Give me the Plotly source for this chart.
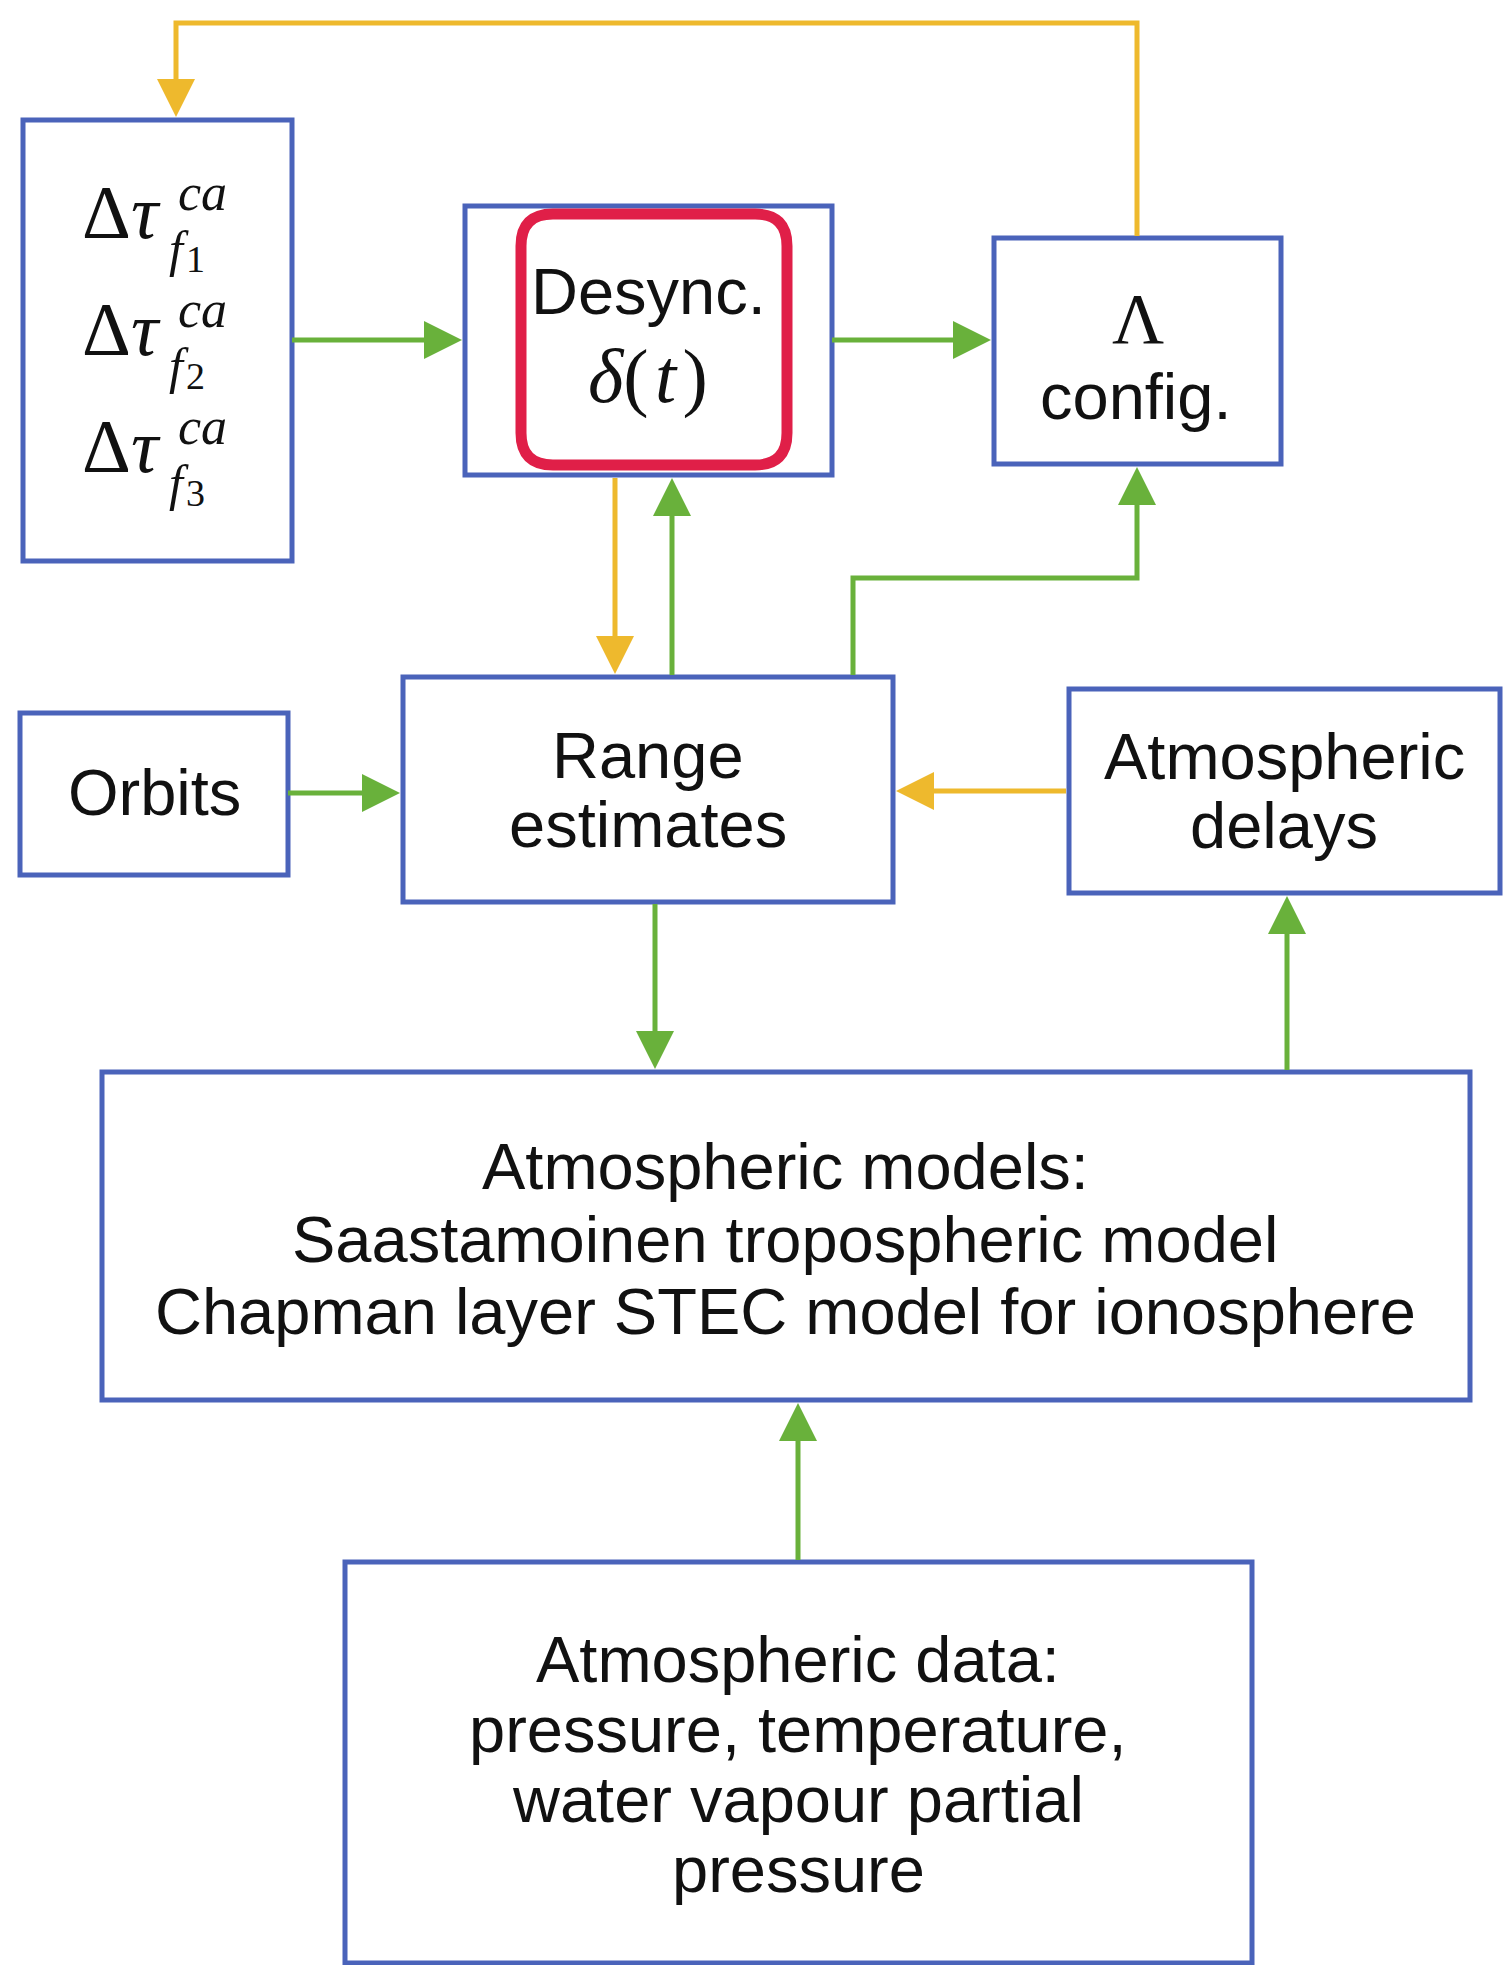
import plotly.graph_objects as go

# ---------------- data (labels) ----------------
tau_indices = ["1", "2", "3"]
tau_symbol = "Δ<i>τ</i>"
tau_super = "<i>ca</i>"
tau_sub = "<i>f</i>"
desync_lines = ["Desync.", "<i>δ</i>(\u200a<i>t</i>\u200a)"]
config_lines = ["Λ", "config."]
orbits_lines = ["Orbits"]
range_lines = ["Range", "estimates"]
delays_lines = ["Atmospheric", "delays"]
models_lines = ["Atmospheric models:", "Saastamoinen tropospheric model",
                "Chapman layer STEC model for ionosphere"]
data_lines = ["Atmospheric data:", "pressure, temperature,",
              "water vapour partial", "pressure"]

# ---------------- layout geometry (page pixels) ----------------
BLUE = "#4a63ba"
GREEN = "#69b13b"
YELLOW = "#eeb92d"
RED = "#e01f48"
SANS = "Liberation Sans, Arial, sans-serif"
SERIF = "Liberation Serif, Times New Roman, serif"

boxes = {
    "tau":    (23, 120, 292, 561),
    "desync": (465, 206, 832, 475),
    "config": (994, 238, 1281, 464),
    "orbits": (20, 713, 288, 875),
    "range":  (403, 677, 893, 902),
    "delays": (1069, 689, 1500, 893),
    "models": (102, 1072, 1470, 1400),
    "data":   (345, 1562, 1252, 1963),
}

shapes = []
annotations = []

for name, (x0, y0, x1, y1) in boxes.items():
    shapes.append(dict(type="rect", xref="x", yref="y", x0=x0, y0=y0, x1=x1, y1=y1,
                       line=dict(color=BLUE, width=5), fillcolor="white", layer="below"))


def arrow(points, color, L=38, W=38, lw=5):
    # polyline ending with an arrowhead at last point
    (tx, ty) = points[-1]
    (px, py) = points[-2]
    dx, dy = tx - px, ty - py
    n = (dx * dx + dy * dy) ** 0.5
    ux, uy = dx / n, dy / n
    bx, by = tx - ux * (L - 2), ty - uy * (L - 2)
    pts = points[:-1] + [(bx, by)]
    path = "M " + " L ".join(f"{x},{y}" for x, y in pts)
    shapes.append(dict(type="path", xref="x", yref="y", path=path,
                       line=dict(color=color, width=lw)))
    bx2, by2 = tx - ux * L, ty - uy * L
    vx, vy = -uy, ux
    tri = (f"M {tx},{ty} L {bx2 + vx * W / 2},{by2 + vy * W / 2} "
           f"L {bx2 - vx * W / 2},{by2 - vy * W / 2} Z")
    shapes.append(dict(type="path", xref="x", yref="y", path=tri,
                       fillcolor=color, line=dict(color=color, width=0)))


arrow([(1137, 236), (1137, 23), (176, 23), (176, 117)], YELLOW)
arrow([(292, 340), (462, 340)], GREEN)
arrow([(832, 340), (991, 340)], GREEN)
arrow([(615, 478), (615, 674)], YELLOW)
arrow([(672, 675), (672, 478)], GREEN)
arrow([(853, 675), (853, 578), (1137, 578), (1137, 467)], GREEN)
arrow([(288, 793), (400, 793)], GREEN)
arrow([(1066, 791), (896, 791)], YELLOW)
arrow([(655, 904), (655, 1069)], GREEN)
arrow([(1287, 1070), (1287, 896)], GREEN)
arrow([(798, 1560), (798, 1403)], GREEN)

# red hand-drawn rounded highlight
rx0, ry0, rx1, ry1, r = 521, 214, 787, 465, 32
red_path = (f"M {rx0 + r},{ry0} L {rx1 - r},{ry0} Q {rx1},{ry0} {rx1},{ry0 + r} "
            f"L {rx1},{ry1 - r} Q {rx1},{ry1} {rx1 - r},{ry1} "
            f"L {rx0 + r},{ry1} Q {rx0},{ry1} {rx0},{ry1 - r} "
            f"L {rx0},{ry0 + r} Q {rx0},{ry0} {rx0 + r},{ry0} Z")
shapes.append(dict(type="path", xref="x", yref="y", path=red_path,
                   line=dict(color=RED, width=11)))


def text(x, y, s, size=65, family=SANS, xanchor="center"):
    annotations.append(dict(x=x, y=y, xref="x", yref="y", text=s, showarrow=False,
                            xanchor=xanchor, yanchor="middle",
                            font=dict(family=family, size=size, color="#111111")))


SERIF_K = 0.3375  # baseline offset from text-box middle (em)


def serif_at(x, baseline, s, size, xanchor="left"):
    text(x, baseline - SERIF_K * size, s, size=size, family=SERIF, xanchor=xanchor)


# tau box: Δτ_{f_i}^{ca}
for idx, B in zip(tau_indices, [238, 355, 472]):
    serif_at(80, B, tau_symbol, 76)
    serif_at(176, B - 28, tau_super, 52)
    serif_at(167, B + 28, tau_sub, 50)
    serif_at(184, B + 34, idx, 38)

# desync
text(648, 291, desync_lines[0])
serif_at(648, 402, desync_lines[1], 76, xanchor="center")

# config
serif_at(1138, 343, config_lines[0], 72, xanchor="center")
text(1136, 396, config_lines[1])

# orbits
text(154, 792, orbits_lines[0])

# range
for s, y in zip(range_lines, [755, 824]):
    text(648, y, s)

# delays
for s, y in zip(delays_lines, [756, 825]):
    text(1284, y, s)

# models
for s, y in zip(models_lines, [1166, 1239, 1311]):
    text(785, y, s)

# data
for s, y in zip(data_lines, [1659, 1729, 1799, 1869]):
    text(798, y, s)

fig = go.Figure()
fig.update_layout(
    width=1495, height=1957,
    margin=dict(l=0, r=0, t=0, b=0),
    paper_bgcolor="white", plot_bgcolor="white",
    xaxis=dict(range=[8, 1503], visible=False, fixedrange=True),
    yaxis=dict(range=[1965, 8], visible=False, fixedrange=True),
    shapes=shapes, annotations=annotations, showlegend=False,
)
fig.write_html("out.html")
